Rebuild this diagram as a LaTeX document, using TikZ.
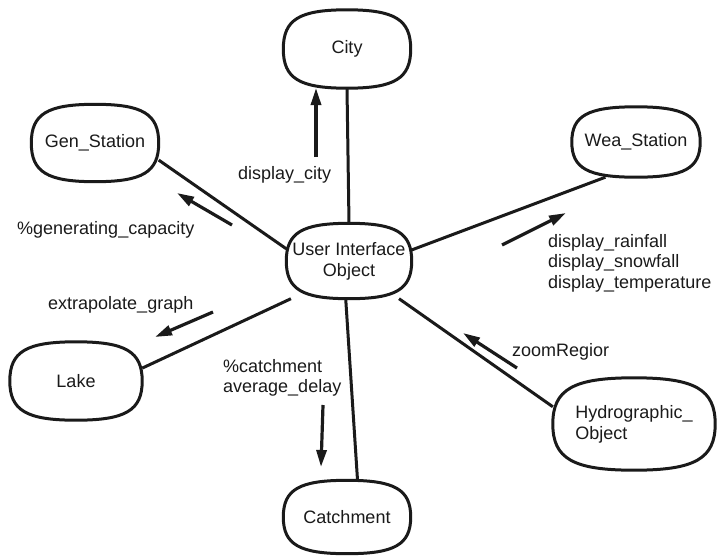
\documentclass[tikz,border=0pt]{standalone}
\usepackage{fontspec}
\setmainfont{Liberation Sans}
\usetikzlibrary{arrows.meta,backgrounds,calc}
\definecolor{ink}{HTML}{1A1A1A}
% rounded, squarish outline through the four side midpoints of a node
\newcommand\blobpath[1]{%
  (#1.west) .. controls ($(#1.west)!0.75!(#1.north west)$) and ($(#1.north)!0.75!(#1.north west)$) .. (#1.north)
  .. controls ($(#1.north)!0.75!(#1.north east)$) and ($(#1.east)!0.75!(#1.north east)$) .. (#1.east)
  .. controls ($(#1.east)!0.75!(#1.south east)$) and ($(#1.south)!0.75!(#1.south east)$) .. (#1.south)
  .. controls ($(#1.south)!0.75!(#1.south west)$) and ($(#1.west)!0.75!(#1.south west)$) .. (#1.west) -- cycle}
\begin{document}
\begin{tikzpicture}[x=1pt,y=-1pt,
  every node/.style={text=ink},
  blob/.style={inner sep=0pt, align=center, font=\fontsize{18}{21}\selectfont},
  blobline/.style={draw=ink, fill=white, line width=3pt, line join=round},
  link/.style={draw=ink, line width=3pt},
  msg/.style={draw=ink, line width=3.2pt, -{Triangle[length=17pt,width=10pt]}},
  lbl/.style={inner sep=0pt, anchor=west, align=left,
    font=\fontsize{18}{20.5}\selectfont}]
\useasboundingbox (0,0) rectangle (720,557);

% objects
\node[blob, minimum width=127pt, minimum height=78pt] (city)  at (347,49)  {City};
\node[blob, minimum width=127pt, minimum height=77pt] (gen)   at (95,143)  {Gen\_Station};
\node[blob, minimum width=128pt, minimum height=70pt] (wea)   at (636,142) {Wea\_Station};
\node[blob, minimum width=125pt, minimum height=75pt] (uio)   at (349,261) {User Interface\\Object};
\node[blob, minimum width=132pt, minimum height=78pt] (lake)  at (76,381)  {Lake};
\node[blob, minimum width=127pt, minimum height=73pt] (catch) at (347,517) {Catchment};
\node[blob, minimum width=162pt, minimum height=92pt, align=left] (hydro) at (634,424) {Hydrographic\_\\Object};

\begin{scope}[on background layer]
  % associations
  \draw[link] (city.south) -- (uio.north);
  \draw[link] (gen.-15) -- (uio.169);
  \draw[link] (wea.-131) -- (uio.10);
  \draw[link] (lake.11) -- (uio.213);
  \draw[link] (uio.265) -- (catch.74);
  \draw[link] (uio.-37) -- (hydro.168);
  % object outlines
  \foreach \n in {city,gen,wea,uio,lake,catch,hydro}
    \path[blobline] \blobpath{\n};
\end{scope}

% message arrows
\coordinate (cityS) at (316,157);  \coordinate (cityE) at (316,88);
\coordinate (genS)  at (232,225);  \coordinate (genE)  at (177,193);
\coordinate (weaS)  at (502,245);  \coordinate (weaE)  at (566,213);
\coordinate (lakeS) at (213,312);  \coordinate (lakeE) at (155,337);
\coordinate (catS)  at (323,405);  \coordinate (catE)  at (321,467);
\coordinate (hydS)  at (517,368);  \coordinate (hydE)  at (463,333);
\draw[msg] (cityS) -- (cityE);
\draw[msg] (genS) -- (genE);
\draw[msg] (weaS) -- (weaE);
\draw[msg] (lakeS) -- (lakeE);
\draw[msg] (catS) -- (catE);
\draw[msg] (hydS) -- (hydE);

% message labels
\node[lbl] (lcity) at (238,175) {display\_city};
\node[lbl] (lgen)  at (17,230)  {\%generating\_capacity};
\node[lbl] (lwea)  at (548,263) {display\_rainfall\\display\_snowfall\\display\_temperature};
\node[lbl] (llake) at (48,305)  {extrapolate\_graph};
\node[lbl] (lcat)  at (223,378) {\%catchment\\average\_delay};
\node[lbl] (lhyd)  at (512,352) {zoomRegior};
\end{tikzpicture}
\end{document}
